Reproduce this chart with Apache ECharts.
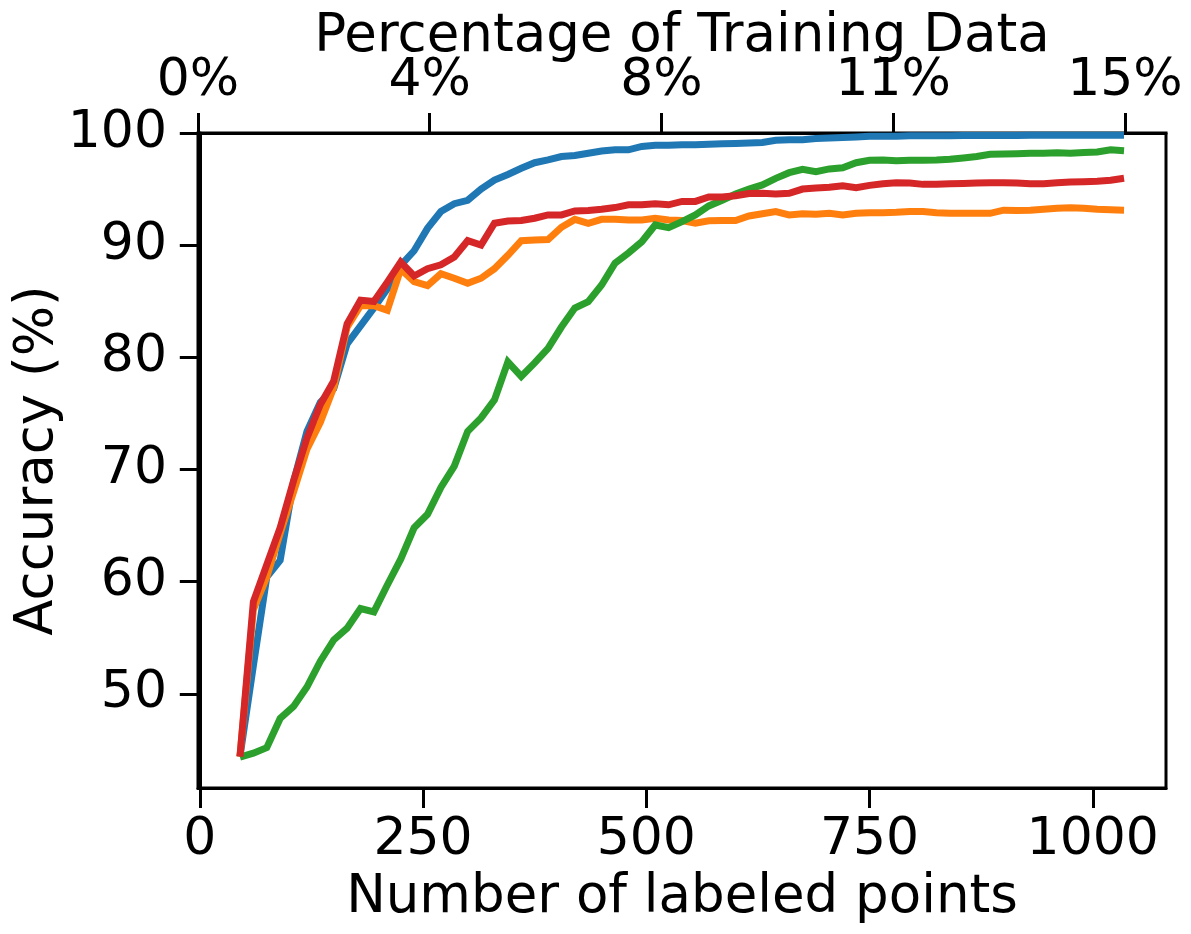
<!DOCTYPE html>
<html>
<head>
<meta charset="utf-8">
<script src="https://cdn.jsdelivr.net/npm/echarts@6/dist/echarts.min.js"></script>
<style>
html,body{margin:0;padding:0;background:#fff;}
#chart{width:1191px;height:934px;}
</style>
</head>
<body>
<div id="chart"></div>
<script>
const labeledPoints = [45,60,75,90,105,120,135,150,165,180,195,210,225,240,255,270,285,300,315,330,345,360,375,390,405,420,435,450,465,480,495,510,525,540,555,570,585,600,615,630,645,660,675,690,705,720,735,750,765,780,795,810,825,840,855,870,885,900,915,930,945,960,975,990,1005,1020,1035];

const blueAcc = [44.4,52.5,60.4,61.9,68.9,73.4,76.0,77.2,81.2,82.8,84.4,86.1,88.2,89.5,91.5,93.0,93.7,94.0,95.0,95.8,96.3,96.85,97.35,97.6,97.9,98.0,98.2,98.4,98.5,98.5,98.8,98.9,98.9,98.95,98.95,99.0,99.05,99.07,99.1,99.15,99.35,99.4,99.4,99.5,99.55,99.6,99.65,99.7,99.7,99.72,99.75,99.75,99.76,99.76,99.77,99.77,99.78,99.78,99.78,99.79,99.79,99.8,99.8,99.8,99.8,99.8,99.8];

const orangeAcc = [44.4,57.5,60.4,64.3,68.0,71.8,74.2,77.3,82.7,84.6,84.6,84.2,87.85,86.75,86.4,87.45,87.05,86.6,87.05,87.9,89.1,90.4,90.46,90.5,91.6,92.3,91.95,92.3,92.3,92.25,92.25,92.4,92.25,92.2,91.95,92.18,92.2,92.2,92.6,92.8,92.99,92.7,92.8,92.75,92.84,92.7,92.84,92.9,92.9,92.93,92.99,92.99,92.9,92.84,92.84,92.84,92.84,93.12,93.1,93.12,93.2,93.3,93.33,93.28,93.2,93.15,93.12];

const greenAcc = [44.36,44.7,45.2,47.8,48.87,50.6,52.9,54.8,55.85,57.6,57.3,59.7,62.0,64.8,66.0,68.4,70.3,73.4,74.6,76.2,79.6,78.3,79.5,80.8,82.7,84.4,84.96,86.45,88.4,89.3,90.3,91.8,91.56,92.1,92.7,93.5,94.0,94.56,95.0,95.37,95.96,96.46,96.76,96.55,96.8,96.9,97.35,97.57,97.6,97.53,97.57,97.57,97.6,97.66,97.77,97.9,98.1,98.12,98.15,98.19,98.2,98.23,98.19,98.26,98.3,98.51,98.42];

const redAcc = [44.4,58.2,61.5,64.8,69.0,72.8,75.8,77.9,83.0,85.1,84.97,86.7,88.5,87.25,87.9,88.25,88.95,90.4,90.0,91.95,92.15,92.2,92.4,92.7,92.7,93.05,93.1,93.2,93.35,93.6,93.6,93.7,93.6,93.9,93.9,94.3,94.3,94.4,94.6,94.63,94.57,94.63,95.0,95.1,95.16,95.3,95.13,95.33,95.48,95.57,95.54,95.42,95.42,95.48,95.5,95.54,95.57,95.57,95.54,95.48,95.48,95.57,95.63,95.66,95.69,95.78,95.96];

const bottomTicks = [0,250,500,750,1000];
const yTicks = [50,60,70,80,90,100];
const topTickLabels = ['0%','4%','8%','11%','15%'];
const topTickPos = [0,1,2,3,4];

const FONT = 'DejaVu Sans';
const axisLineStyle = {show:true, lineStyle:{color:'#000', width:3}};
const tickStyle = {show:true, inside:false, length:20, lineStyle:{color:'#000', width:3}};

function mk(data, color, name){
  return {
    name: name, type:'line', xAxisIndex:0, yAxisIndex:0,
    data: labeledPoints.map((x,i)=>[x,data[i]]),
    showSymbol:false, symbol:'none', clip:true,
    lineStyle:{color:color, width:7, cap:'butt', join:'miter'},
    itemStyle:{color:color}
  };
}

const chart = echarts.init(document.getElementById('chart'), null, {renderer:'canvas'});
chart.setOption({
  animation:false,
  backgroundColor:'#fff',
  textStyle:{fontFamily:FONT},
  grid:{left:198, right:25, top:133, bottom:146, show:true, borderColor:'#000', borderWidth:3, containLabel:false, outerBoundsMode:'none'},
  xAxis:[
    {
      type:'value', position:'bottom', min:-2, max:1082,
      name:'Number of labeled points', nameLocation:'middle', nameGap:84, nameMoveOverlap:false,
      nameTextStyle:{fontSize:53, color:'#000', fontFamily:FONT},
      axisLine:axisLineStyle,
      axisTick:Object.assign({}, tickStyle, {customValues:bottomTicks}),
      axisLabel:{fontSize:52, color:'#000', fontFamily:FONT, margin:26, customValues:bottomTicks,
        formatter:function(v){ return String(Math.round(v)); }},
      splitLine:{show:false}
    },
    {
      type:'value', position:'top', min:0, max:4.177,
      name:'Percentage of Training Data', nameLocation:'middle', nameGap:69, nameMoveOverlap:false,
      nameTextStyle:{fontSize:53, color:'#000', fontFamily:FONT},
      axisLine:axisLineStyle,
      axisTick:Object.assign({}, tickStyle, {customValues:topTickPos}),
      axisLabel:{fontSize:52, color:'#000', fontFamily:FONT, margin:26, customValues:topTickPos,
        formatter:function(v){ const i=Math.round(v); return topTickLabels[i]!==undefined?topTickLabels[i]:''; }},
      splitLine:{show:false}
    }
  ],
  yAxis:[{
    type:'value', min:41.6, max:100,
    name:'Accuracy (%)', nameLocation:'middle', nameGap:133, nameRotate:90, nameMoveOverlap:false,
    nameTextStyle:{fontSize:53, color:'#000', fontFamily:FONT},
    axisLine:axisLineStyle,
    axisTick:Object.assign({}, tickStyle, {customValues:yTicks}),
    axisLabel:{fontSize:52, color:'#000', fontFamily:FONT, margin:31, customValues:yTicks},
    splitLine:{show:false}
  }],
  series:[
    mk(blueAcc,'#1f77b4','blue'),
    mk(orangeAcc,'#ff7f0e','orange'),
    mk(greenAcc,'#2ca02c','green'),
    mk(redAcc,'#d62728','red')
  ]
});
</script>
</body>
</html>
